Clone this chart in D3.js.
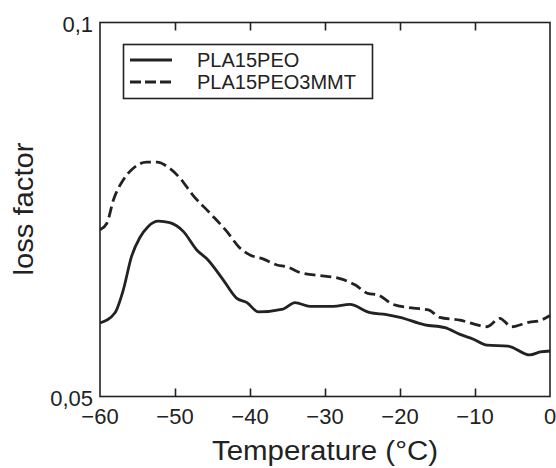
<!DOCTYPE html>
<html>
<head>
<meta charset="utf-8">
<script src="https://cdn.jsdelivr.net/npm/d3@7"></script>
<style>
  html, body { margin: 0; padding: 0; background: #fff; }
  svg { display: block; font-family: "Liberation Sans", Arial, sans-serif; }
</style>
</head>
<body>
<svg id="chart" width="556" height="468"></svg>
<script>
// ---- data ----
const seriesNames = ["PLA15PEO", "PLA15PEO3MMT"];
const xTicks = [-60, -50, -40, -30, -20, -10, 0];
const yTickLabels = ["0,05", "0,1"];
const yTickValues = [0.05, 0.1];

const tempPEO = [-60, -58, -56.9, -55.8, -54.7, -53.6, -52.2, -50.7, -48.9, -47.1, -45.6, -43.6, -41.8, -40.4, -38.9, -35.6, -34, -32, -28.9, -26.7, -24, -21.8, -20, -16.7, -14, -12, -10.2, -8.4, -5.6, -2.7, -1.3, 0];
const lossPEO = [0.0573, 0.0584, 0.0609, 0.0648, 0.0671, 0.0685, 0.0692, 0.0690, 0.0679, 0.0656, 0.0644, 0.0621, 0.0600, 0.0595, 0.0585, 0.0588, 0.0595, 0.0591, 0.0591, 0.0593, 0.0584, 0.0582, 0.0579, 0.0571, 0.0568, 0.0561, 0.0556, 0.0550, 0.0549, 0.0540, 0.0543, 0.0544];

const tempMMT = [-60, -59.1, -58.2, -56.9, -55.6, -53.8, -52.4, -50.7, -49.3, -47.6, -45.3, -43.1, -41.3, -40, -38.2, -36.4, -35.1, -33.3, -31.1, -28, -26, -24.2, -23.1, -20.9, -18.2, -16.2, -14.7, -12, -10.2, -8.4, -6.7, -5.1, -2.7, -1.6, 0];
const lossMMT = [0.0681, 0.0689, 0.0720, 0.0747, 0.0763, 0.0772, 0.0772, 0.0763, 0.0749, 0.0726, 0.0702, 0.0679, 0.0658, 0.0650, 0.0645, 0.0638, 0.0636, 0.0629, 0.0626, 0.0622, 0.0615, 0.0605, 0.0604, 0.0593, 0.0589, 0.0587, 0.0579, 0.0576, 0.0572, 0.0569, 0.0578, 0.0569, 0.0574, 0.0575, 0.0581];

// ---- layout ----
const svg = d3.select("#chart");
const L = 100, R = 550, T = 22.5, B = 396.5;
const ink = "#222";

const x = d3.scaleLinear().domain([-60, 0]).range([L, R]);
const y = d3.scaleLog().domain([0.05, 0.1]).range([B, T]);

// frame
svg.append("rect")
  .attr("x", L).attr("y", T).attr("width", R - L).attr("height", B - T)
  .attr("fill", "none").attr("stroke", ink).attr("stroke-width", 1.6);

// inward ticks on bottom and top (interior only)
const innerTicks = xTicks.slice(1, -1);
const bottomAxis = d3.axisBottom(x).tickValues(innerTicks).tickSize(-8).tickFormat("");
const gB = svg.append("g").attr("transform", `translate(0,${B})`).call(bottomAxis);
const topAxis = d3.axisTop(x).tickValues(innerTicks).tickSize(-8).tickFormat("");
const gT = svg.append("g").attr("transform", `translate(0,${T})`).call(topAxis);
[gB, gT].forEach(g => {
  g.select(".domain").remove();
  g.selectAll(".tick line").attr("stroke", ink).attr("stroke-width", 1.6);
});

// x tick labels
svg.append("g").selectAll("text").data(xTicks).join("text")
  .attr("x", d => x(d)).attr("y", 424)
  .attr("text-anchor", "middle")
  .attr("font-size", 22).attr("fill", ink)
  .text(d => d < 0 ? "\u2212" + Math.abs(d) : String(d));

// y tick labels
svg.append("g").selectAll("text").data(yTickValues).join("text")
  .attr("x", 93).attr("y", d => y(d) + 9)
  .attr("text-anchor", "end")
  .attr("font-size", 22).attr("fill", ink)
  .text((d, i) => yTickLabels[i]);

// axis titles
svg.append("text")
  .attr("x", 325).attr("y", 460)
  .attr("text-anchor", "middle")
  .attr("font-size", 27).attr("fill", ink)
  .attr("textLength", 226).attr("lengthAdjust", "spacingAndGlyphs")
  .text("Temperature (\u00B0C)");

svg.append("text")
  .attr("transform", "translate(33,209) rotate(-90)")
  .attr("text-anchor", "middle")
  .attr("font-size", 27).attr("fill", ink)
  .attr("textLength", 133).attr("lengthAdjust", "spacingAndGlyphs")
  .text("loss factor");

// lines
const line = d3.line().x(d => x(d[0])).y(d => y(d[1])).curve(d3.curveMonotoneX);
const dataPEO = tempPEO.map((t, i) => [t, lossPEO[i]]);
const dataMMT = tempMMT.map((t, i) => [t, lossMMT[i]]);

svg.append("path").datum(dataPEO).attr("d", line)
  .attr("fill", "none").attr("stroke", ink).attr("stroke-width", 2.8)
  .attr("stroke-linejoin", "round");
svg.append("path").datum(dataMMT).attr("d", line)
  .attr("fill", "none").attr("stroke", ink).attr("stroke-width", 2.8)
  .attr("stroke-dasharray", "11,5");

// legend
const lg = svg.append("g");
lg.append("rect").attr("x", 123.5).attr("y", 44.5).attr("width", 249).attr("height", 54)
  .attr("fill", "#fff").attr("stroke", ink).attr("stroke-width", 1.6);
const dashes = [null, "11,4"];
[60, 82].forEach((yy, i) => {
  lg.append("line").attr("x1", 130).attr("x2", 172).attr("y1", yy).attr("y2", yy)
    .attr("stroke", ink).attr("stroke-width", 2.8)
    .attr("stroke-dasharray", dashes[i]);
  lg.append("text").attr("x", 197).attr("y", yy + 7)
    .attr("font-size", 20).attr("fill", ink)
    .text(seriesNames[i]);
});
</script>
</body>
</html>
